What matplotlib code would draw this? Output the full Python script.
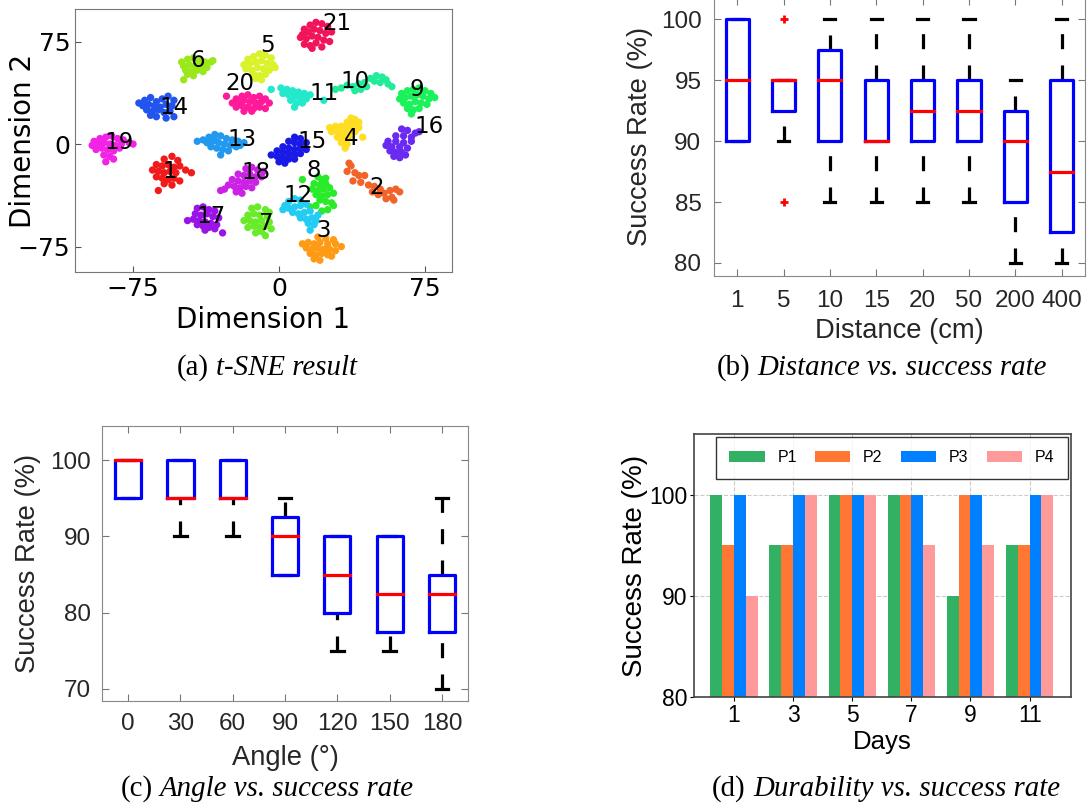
import numpy as np
import matplotlib.pyplot as plt

plt.rcParams['font.family'] = 'DejaVu Sans'

# ---------------- (a) t-SNE embedding, one list of points per cluster ----------------
pts_1 = [(-59, -11), (-55, -9), (-52, -12), (-63, -15), (-60, -16), (-57, -15), (-54, -17), (-51, -16),
         (-65, -19), (-62, -20), (-59, -21), (-56, -20), (-53, -21), (-48, -19), (-45, -21), (-63, -24),
         (-60, -25), (-57, -26), (-54, -25), (-51, -27), (-59, -29), (-62, -34), (-55, -30)]
pts_2 = [(36, -14), (37, -16), (35, -20), (39, -21), (41, -23), (44, -23), (38, -27), (42, -28),
         (46, -30), (49, -31), (52, -33), (48, -35), (51, -37), (54, -36), (57, -34), (60, -33),
         (62, -35), (58, -39), (55, -40), (59, -41)]
pts_3 = [(20, -68), (24, -69), (28, -70), (12, -73), (15, -72), (18, -73), (21, -72), (25, -73),
         (29, -73), (32, -75), (14, -76), (17, -77), (20, -76), (23, -77), (26, -77), (29, -78),
         (16, -80), (19, -81), (22, -80), (25, -81), (18, -84), (21, -85), (27, -82)]
pts_4 = [(37, 19), (39, 18), (35, 16), (38, 15), (41, 16), (26, 12), (29, 13), (32, 13), (35, 12),
         (38, 11), (41, 12), (27, 9), (30, 9), (33, 8), (36, 8), (39, 9), (30, 5), (33, 4), (36, 5),
         (32, 1), (35, 0), (34, -3), (43, 5)]
pts_5 = [(-16, 62), (-13, 64), (-10, 66), (-7, 65), (-4, 63), (-18, 58), (-15, 59), (-12, 60),
         (-9, 61), (-6, 59), (-3, 58), (-17, 55), (-14, 54), (-11, 56), (-8, 55), (-5, 54), (-2, 56),
         (-13, 51), (-10, 50), (-7, 51), (-12, 48), (-9, 47)]
pts_6 = [(-50, 60), (-47, 62), (-44, 63), (-41, 61), (-38, 60), (-35, 60), (-34, 61), (-49, 57),
         (-46, 58), (-43, 57), (-40, 57), (-37, 56), (-48, 54), (-45, 53), (-42, 54), (-39, 53),
         (-44, 50), (-47, 51), (-49, 47)]
pts_7 = [(-14, -47), (-11, -46), (-7, -48), (-5, -50), (-16, -52), (-13, -51), (-10, -52), (-6, -53),
         (-18, -56), (-15, -56), (-12, -57), (-9, -56), (-5, -57), (-16, -61), (-13, -60), (-10, -61),
         (-7, -60), (-4, -62), (-12, -65), (-9, -64), (-7, -67)]
pts_8 = [(12, -26), (20, -24), (22, -26), (24, -25), (18, -29), (21, -30), (24, -29), (17, -33),
         (20, -34), (23, -33), (26, -32), (19, -37), (22, -38), (25, -37), (28, -36), (21, -41),
         (24, -42), (27, -43), (16, -46), (19, -45), (22, -49), (25, -48), (28, -45)]
pts_9 = [(63, 37), (66, 39), (69, 40), (72, 41), (75, 39), (78, 37), (62, 33), (65, 34), (68, 35),
         (71, 36), (74, 35), (77, 33), (80, 34), (64, 30), (67, 29), (70, 31), (73, 30), (76, 29),
         (66, 26), (69, 25), (72, 26), (68, 22)]
pts_10 = [(29, 40), (32, 41), (35, 43), (38, 42), (41, 44), (44, 45), (47, 48), (50, 50), (53, 49),
          (49, 46), (52, 45), (55, 47), (58, 42), (56, 44), (42, 40), (45, 42), (39, 39)]
pts_11 = [(-4, 40), (1, 41), (4, 40), (7, 39), (10, 38), (13, 37), (2, 37), (5, 36), (8, 35),
          (11, 34), (14, 33), (16, 36), (6, 32), (9, 30), (12, 30), (8, 27), (23, 32)]
pts_12 = [(3, -45), (5, -42), (8, -40), (11, -41), (2, -48), (5, -47), (8, -46), (11, -45), (14, -44),
          (7, -50), (10, -51), (13, -50), (16, -49), (11, -54), (14, -55), (17, -54), (19, -56),
          (15, -58), (18, -59), (16, -63), (20, -52)]
pts_13 = [(-42, 2), (-39, 3), (-36, 5), (-33, 7), (-30, 6), (-27, 4), (-24, 3), (-21, 2), (-18, 1),
          (-37, 1), (-34, 2), (-31, 1), (-28, 0), (-25, -1), (-22, -2), (-35, -2), (-32, -3),
          (-29, -4), (-26, -5), (-30, -8), (-20, -1), (-33, 3)]
pts_14 = [(-72, 30), (-69, 32), (-66, 34), (-63, 31), (-60, 33), (-57, 35), (-54, 32), (-70, 28),
          (-67, 29), (-64, 28), (-61, 27), (-58, 29), (-55, 28), (-68, 25), (-65, 24), (-62, 25),
          (-59, 23), (-56, 24), (-66, 21), (-63, 20), (-58, 19), (-54, 20)]
pts_15 = [(8, 5), (11, 4), (5, 2), (8, 1), (11, 0), (14, 1), (2, -2), (5, -3), (8, -4), (11, -3),
          (14, -4), (-1, -5), (2, -6), (5, -7), (8, -8), (11, -7), (-4, -8), (-1, -9), (2, -10),
          (5, -11), (8, -11), (0, -13), (3, -14)]
pts_16 = [(63, 11), (66, 10), (70, 8), (72, 9), (60, 6), (64, 6), (68, 5), (56, 2), (60, 2), (64, 1),
          (68, 2), (55, -1), (58, -2), (62, -2), (66, -3), (57, -5), (60, -6), (63, -6), (59, -9),
          (62, -10), (65, -8)]
pts_17 = [(-42, -47), (-39, -46), (-36, -48), (-33, -49), (-43, -51), (-40, -52), (-37, -51),
          (-34, -53), (-31, -54), (-47, -56), (-44, -55), (-41, -56), (-38, -57), (-35, -58),
          (-32, -59), (-42, -59), (-39, -60), (-36, -61), (-33, -62), (-29, -65), (-38, -63)]
pts_18 = [(-17, -18), (-14, -17), (-11, -19), (-8, -20), (-21, -22), (-18, -23), (-15, -22),
          (-12, -24), (-9, -24), (-24, -26), (-21, -27), (-18, -28), (-15, -27), (-12, -28),
          (-26, -30), (-23, -31), (-20, -32), (-17, -31), (-14, -32), (-22, -35), (-19, -36),
          (-30, -34), (-28, -33)]
pts_19 = [(-95, 2), (-92, 4), (-89, 5), (-86, 6), (-83, 4), (-80, 3), (-77, 1), (-75, 0), (-96, -1),
          (-93, 0), (-90, 1), (-87, 0), (-84, -1), (-81, 0), (-94, -4), (-91, -3), (-88, -4),
          (-85, -5), (-82, -3), (-90, -8), (-87, -9), (-89, -13), (-85, -11)]
pts_20 = [(-27, 35), (-22, 33), (-19, 35), (-16, 36), (-13, 34), (-10, 35), (-7, 33), (-24, 30),
          (-21, 31), (-18, 32), (-15, 31), (-12, 30), (-9, 31), (-5, 30), (-22, 27), (-19, 28),
          (-16, 27), (-13, 26), (-10, 27), (-7, 26), (-18, 24), (-14, 24)]
pts_21 = [(13, 84), (16, 87), (19, 89), (22, 88), (25, 86), (12, 80), (15, 82), (18, 84), (21, 83),
          (24, 81), (27, 82), (14, 77), (17, 79), (20, 78), (23, 76), (26, 75), (13, 73), (16, 72),
          (19, 74), (22, 71), (17, 70), (11, 78)]

clusters = [pts_1, pts_2, pts_3, pts_4, pts_5, pts_6, pts_7, pts_8, pts_9, pts_10, pts_11,
            pts_12, pts_13, pts_14, pts_15, pts_16, pts_17, pts_18, pts_19, pts_20, pts_21]
cluster_colors = ['#f21a1a', '#f2632a', '#ff9a14', '#ffdd22', '#d9f22a', '#9be81a', '#6aeb2a',
                  '#2aeb2a', '#1af25a', '#22eb9a', '#22e8cc', '#22ccf2', '#2299ee', '#2255ee',
                  '#1a1ae6', '#6a2af2', '#9a14e8', '#cc22e6', '#f222e6', '#ff1a9a', '#f2145a']
label_xy = [(-56, -20), (50, -32), (23, -63), (37, 4), (-6, 72), (-42, 61), (-7, -58), (18, -19),
            (71, 40), (39, 46), (23, 37), (10, -38), (-19, 3), (-54, 27), (17, 2), (77, 13),
            (-35, -53), (-12, -21), (-82, 1), (-20, 44), (30, 88)]

# ---------------- (b) distance box plot ----------------
dist_labels = ['1', '5', '10', '15', '20', '50', '200', '400']
dist_q1 = [90, 92.5, 90, 90, 90, 90, 85, 82.5]
dist_med = [95, 95, 95, 90, 92.5, 92.5, 90, 87.5]
dist_q3 = [100, 95, 97.5, 95, 95, 95, 92.5, 95]
dist_lo = [90, 90, 85, 85, 85, 85, 80, 80]
dist_hi = [100, 95, 100, 100, 100, 100, 95, 100]
dist_out = [[], [100, 85], [], [], [], [], [], []]

# ---------------- (c) angle box plot ----------------
angle_labels = ['0', '30', '60', '90', '120', '150', '180']
angle_q1 = [95, 95, 95, 85, 80, 77.5, 77.5]
angle_med = [100, 95, 95, 90, 85, 82.5, 82.5]
angle_q3 = [100, 100, 100, 92.5, 90, 90, 85]
angle_lo = [95, 90, 90, 85, 75, 75, 70]
angle_hi = [100, 100, 100, 95, 90, 90, 95]
angle_out = [[], [], [], [], [], [], []]

# ---------------- (d) durability bars ----------------
days = [1, 3, 5, 7, 9, 11]
p1 = [100, 95, 100, 100, 90, 95]
p2 = [95, 95, 100, 100, 100, 95]
p3 = [100, 100, 100, 100, 100, 100]
p4 = [90, 100, 100, 95, 95, 100]
series = [p1, p2, p3, p4]
series_names = ['P1', 'P2', 'P3', 'P4']
series_colors = ['#32b165', '#ff7733', '#0080ff', '#ff9a9a']

fig = plt.figure(figsize=(10.89, 8.09), dpi=100)

# ---- (a)
ax1 = fig.add_axes([0.0689, 0.6638, 0.3462, 0.3251])
for pts, col in zip(clusters, cluster_colors):
    xy = np.array(pts)
    ax1.scatter(xy[:, 0], xy[:, 1], s=28, color=col, edgecolors='none', zorder=2)
for i, (lx, ly) in enumerate(label_xy):
    ax1.text(lx, ly, str(i + 1), fontsize=16.5, ha='center', va='center', zorder=3)
ax1.set_xlim(-104.8, 88.9)
ax1.set_ylim(-93.6, 98.8)
ax1.set_xticks([-75, 0, 75])
ax1.set_yticks([-75, 0, 75])
ax1.tick_params(direction='in', labelsize=18, length=4, color='#555555')
for s in ax1.spines.values():
    s.set_color('#777777')
ax1.set_xlabel('Dimension 1', fontsize=20)
ax1.set_ylabel('Dimension 2', fontsize=20)
ax1.xaxis.set_label_coords(0.5, -0.13)
ax1.yaxis.set_label_coords(-0.10, 0.5)


def matlab_boxes(ax, q1, med, q3, lo, hi, out):
    lw = 2.3
    hw = 0.25
    cw = 0.12
    for i in range(len(q1)):
        x = i + 1
        if lo[i] < q1[i]:
            ax.plot([x, x], [lo[i], q1[i]], color='k', lw=lw, ls=(0, (4.7, 5.1)), zorder=2)
        if hi[i] > q3[i]:
            ax.plot([x, x], [q3[i], hi[i]], color='k', lw=lw, ls=(0, (4.7, 5.1)), zorder=2)
        ax.plot([x - cw, x + cw], [lo[i], lo[i]], color='k', lw=lw, zorder=2)
        ax.plot([x - cw, x + cw], [hi[i], hi[i]], color='k', lw=lw, zorder=2)
        ax.plot([x - hw, x + hw, x + hw, x - hw, x - hw],
                [q1[i], q1[i], q3[i], q3[i], q1[i]], color='#0000ff', lw=lw, zorder=3)
        ax.plot([x - hw, x + hw], [med[i], med[i]], color='#ff0000', lw=lw, zorder=4)
        if out[i]:
            ax.plot([x] * len(out[i]), out[i], '+', color='#ff0000', ms=6, mew=2, zorder=4)


def matlab_axes(ax, labels):
    ax.set_xlim(0.5, len(labels) + 0.5)
    ax.set_xticks(range(1, len(labels) + 1))
    ax.set_xticklabels(labels)
    ax.tick_params(direction='in', top=True, right=True, labelsize=17.5,
                   labelcolor='#262626', color='#777777', length=5)
    for s in ax.spines.values():
        s.set_color('#888888')


# ---- (b)
ax2 = fig.add_axes([0.6556, 0.6588, 0.3407, 0.3440])
matlab_boxes(ax2, dist_q1, dist_med, dist_q3, dist_lo, dist_hi, dist_out)
matlab_axes(ax2, dist_labels)
ax2.set_ylim(78.93, 101.75)
ax2.set_yticks([80, 85, 90, 95, 100])
ax2.tick_params(axis='x', pad=10)
ax2.tick_params(axis='y', pad=9)
ax2.set_xlabel('Distance (cm)', fontsize=19.7, color='#262626')
ax2.set_ylabel('Success Rate (%)', fontsize=19.7, color='#262626')
ax2.xaxis.set_label_coords(0.5, -0.152)
ax2.yaxis.set_label_coords(-0.164, 0.5)

# ---- (c)
ax3 = fig.add_axes([0.0937, 0.1335, 0.3361, 0.3399])
matlab_boxes(ax3, angle_q1, angle_med, angle_q3, angle_lo, angle_hi, angle_out)
matlab_axes(ax3, angle_labels)
ax3.set_ylim(68.4, 104.5)
ax3.set_yticks([70, 80, 90, 100])
ax3.tick_params(axis='x', pad=9)
ax3.tick_params(axis='y', pad=8)
ax3.set_xlabel('Angle (°)', fontsize=19.7, color='#262626')
ax3.set_ylabel('Success Rate (%)', fontsize=19.7, color='#262626')
ax3.xaxis.set_label_coords(0.5, -0.16)
ax3.yaxis.set_label_coords(-0.167, 0.5)

# ---- (d)
ax4 = fig.add_axes([0.6373, 0.1384, 0.3462, 0.3251])
bw = 0.4
offsets = [-0.6, -0.2, 0.2, 0.6]
for vals, name, col, off in zip(series, series_names, series_colors, offsets):
    ax4.bar(np.array(days) + off, vals, width=bw, color=col, label=name, zorder=2)
ax4.set_xlim(-0.35, 12.4)
ax4.set_ylim(80, 106)
ax4.set_xticks(days)
ax4.set_yticks([80, 90, 100])
ax4.set_axisbelow(True)
ax4.grid(True, ls='--', color='#cccccc', lw=0.8)
ax4.tick_params(labelsize=16.5, length=3, pad=2)
for s in ax4.spines.values():
    s.set_color('#444444')
    s.set_linewidth(1.2)
ax4.set_xlabel('Days', fontsize=18.5, family='Liberation Sans')
ax4.set_ylabel('Success Rate (%)', fontsize=20, family='Liberation Sans')
ax4.xaxis.set_label_coords(0.5, -0.125)
ax4.yaxis.set_label_coords(-0.122, 0.5)
for lab in ax4.get_xticklabels() + ax4.get_yticklabels():
    lab.set_family('Liberation Sans')
leg = ax4.legend(ncol=4, loc='upper left', bbox_to_anchor=(0.058, 0.859, 0.934, 0.13),
                 mode='expand', frameon=True, fancybox=False, edgecolor='black',
                 handlelength=2.2, handleheight=0.7, borderaxespad=0, borderpad=0.85,
                 prop={'family': 'Liberation Sans', 'size': 11.5})
leg.get_frame().set_linewidth(1.0)

for lab in ax2.get_xticklabels() + ax2.get_yticklabels() + ax3.get_xticklabels() + ax3.get_yticklabels():
    lab.set_family('Liberation Sans')
for a in (ax2, ax3):
    a.xaxis.label.set_family('Liberation Sans')
    a.yaxis.label.set_family('Liberation Sans')

# ---- captions: upright tag followed by italic title
renderer = fig.canvas.get_renderer()


def caption(cx, cy, tag, body, size=20.8):
    t1 = fig.text(0, cy, tag, fontsize=size, family='Liberation Serif', va='center')
    t2 = fig.text(0, cy, body, fontsize=size, family='Liberation Serif', style='italic', va='center')
    w1 = t1.get_window_extent(renderer).width
    w2 = t2.get_window_extent(renderer).width
    gap = size * 100 / 72 * 0.25
    W = fig.bbox.width
    x0 = cx - (w1 + gap + w2) / 2 / W
    t1.set_x(x0)
    t2.set_x(x0 + (w1 + gap) / W)


caption(267 / 1089, 1 - 368 / 809, '(a)', 't-SNE result')
caption(882 / 1089, 1 - 368 / 809, '(b)', 'Distance vs. success rate')
caption(267 / 1089, 1 - 789 / 809, '(c)', 'Angle vs. success rate')
caption(886 / 1089, 1 - 789 / 809, '(d)', 'Durability vs. success rate')

fig.savefig('out.png', dpi=100)
